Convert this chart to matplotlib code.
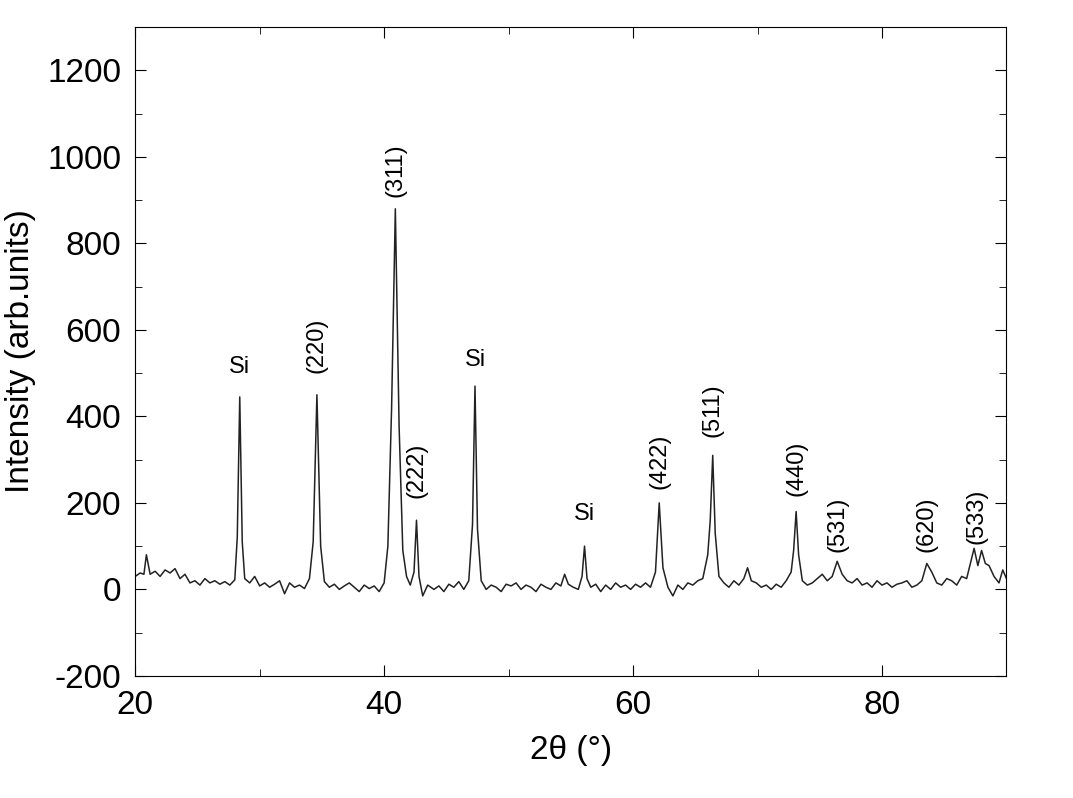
# XRD pattern recreated from the reference picture
import matplotlib.pyplot as plt
from matplotlib.ticker import MultipleLocator

plt.rcParams['font.family'] = ['Liberation Sans', 'DejaVu Sans']
plt.rcParams['axes.unicode_minus'] = False

# 2theta (deg) and intensity
two_theta = [20.0, 20.4, 20.7, 20.9, 21.2, 21.6, 22.0, 22.4, 22.8, 23.2, 23.6, 24.0, 24.4,
             24.8, 25.2, 25.6, 26.0, 26.4, 26.8, 27.2, 27.6, 28.0, 28.2, 28.4, 28.6, 28.8,
             29.2, 29.6, 30.0, 30.4, 30.8, 31.2, 31.6, 32.0, 32.4, 32.8, 33.2, 33.6, 34.0,
             34.3, 34.6, 34.9, 35.2, 35.6, 36.0, 36.4, 36.8, 37.2, 37.6, 38.0, 38.4, 38.8,
             39.2, 39.6, 40.0, 40.3, 40.6, 40.9, 41.2, 41.5, 41.8, 42.1, 42.4, 42.6, 42.8,
             43.1, 43.5, 44.0, 44.4, 44.8, 45.2, 45.6, 46.0, 46.4, 46.8, 47.1, 47.3, 47.5,
             47.8, 48.2, 48.6, 49.0, 49.4, 49.8, 50.2, 50.6, 51.0, 51.4, 51.8, 52.2, 52.6,
             53.0, 53.4, 53.8, 54.2, 54.5, 54.8, 55.2, 55.6, 55.9, 56.1, 56.3, 56.6, 57.0,
             57.4, 57.8, 58.2, 58.6, 59.0, 59.4, 59.8, 60.2, 60.6, 61.0, 61.4, 61.8, 62.1,
             62.4, 62.8, 63.2, 63.6, 64.0, 64.4, 64.8, 65.2, 65.6, 66.0, 66.2, 66.4, 66.6,
             66.9, 67.3, 67.7, 68.1, 68.5, 68.9, 69.2, 69.5, 69.9, 70.3, 70.7, 71.1, 71.5,
             71.9, 72.3, 72.7, 72.9, 73.1, 73.3, 73.6, 74.0, 74.4, 74.8, 75.2, 75.6, 76.0,
             76.4, 76.8, 77.2, 77.6, 78.0, 78.4, 78.8, 79.2, 79.6, 80.0, 80.4, 80.8, 81.2,
             81.6, 82.0, 82.4, 82.8, 83.2, 83.6, 84.0, 84.4, 84.8, 85.2, 85.6, 86.0, 86.4,
             86.8, 87.1, 87.4, 87.7, 88.0, 88.3, 88.6, 89.0, 89.4, 89.7, 90.0]
intensity = [30, 38, 35, 80, 35, 42, 30, 45, 38, 48, 25, 35, 15,
             20, 10, 25, 15, 20, 12, 18, 10, 22, 120, 445, 110, 25,
             15, 30, 8, 15, 5, 12, 20, -10, 15, 5, 10, 2, 25,
             110, 450, 100, 18, 5, 12, 0, 8, 15, 5, -5, 10, 2,
             8, -5, 15, 100, 420, 880, 380, 90, 30, 10, 40, 160, 30,
             -15, 10, 0, 8, -5, 12, 5, 18, 0, 20, 150, 470, 140,
             20, 0, 10, 5, -5, 12, 8, 15, 0, 10, 5, -5, 12,
             5, 0, 15, 8, 35, 12, 5, 0, 30, 100, 25, 5, 12,
             -5, 10, 0, 15, 5, 10, 0, 12, 5, 15, 5, 40, 200,
             50, 5, -15, 10, 0, 15, 10, 20, 25, 80, 160, 310, 130,
             30, 15, 5, 20, 10, 25, 50, 20, 15, 5, 10, 0, 12,
             5, 20, 40, 90, 180, 80, 20, 10, 15, 25, 35, 20, 30,
             65, 35, 20, 15, 25, 10, 15, 5, 20, 10, 15, 5, 12,
             15, 20, 5, 10, 20, 60, 40, 15, 10, 25, 20, 10, 30,
             25, 60, 95, 55, 90, 60, 55, 30, 15, 45, 25]

# peak labels: position, label y, text, rotated
labels = [(28.4, 515, 'Si', 0), (34.6, 565, '(220)', 90), (40.9, 970, '(311)', 90),
          (42.6, 275, '(222)', 90), (47.3, 530, 'Si', 0), (56.1, 175, 'Si', 0),
          (62.1, 295, '(422)', 90), (66.4, 415, '(511)', 90), (73.1, 280, '(440)', 90),
          (76.4, 150, '(531)', 90), (83.6, 150, '(620)', 90), (87.6, 170, '(533)', 90)]

fig, ax = plt.subplots(figsize=(10.73, 7.98), dpi=100)
fig.subplots_adjust(left=0.126, right=0.938, top=0.966, bottom=0.153)

ax.plot(two_theta, intensity, color='#222222', linewidth=1.1)

for x, y, txt, rot in labels:
    ax.text(x, y, txt, rotation=rot, ha='center', va='center', fontsize=17)

ax.set_xlim(20, 90)
ax.set_ylim(-200, 1300)
ax.xaxis.set_major_locator(MultipleLocator(20))
ax.xaxis.set_minor_locator(MultipleLocator(10))
ax.yaxis.set_major_locator(MultipleLocator(200))
ax.yaxis.set_minor_locator(MultipleLocator(100))
ax.tick_params(which='both', direction='in', top=True, right=True, labelsize=24, pad=10)
ax.tick_params(which='major', length=8)
ax.tick_params(which='minor', length=5)

ax.set_xlabel('2θ (°)', fontsize=24, labelpad=10)
ax.set_ylabel('Intensity (arb.units)', fontsize=24, labelpad=8)

plt.savefig('out.png')
